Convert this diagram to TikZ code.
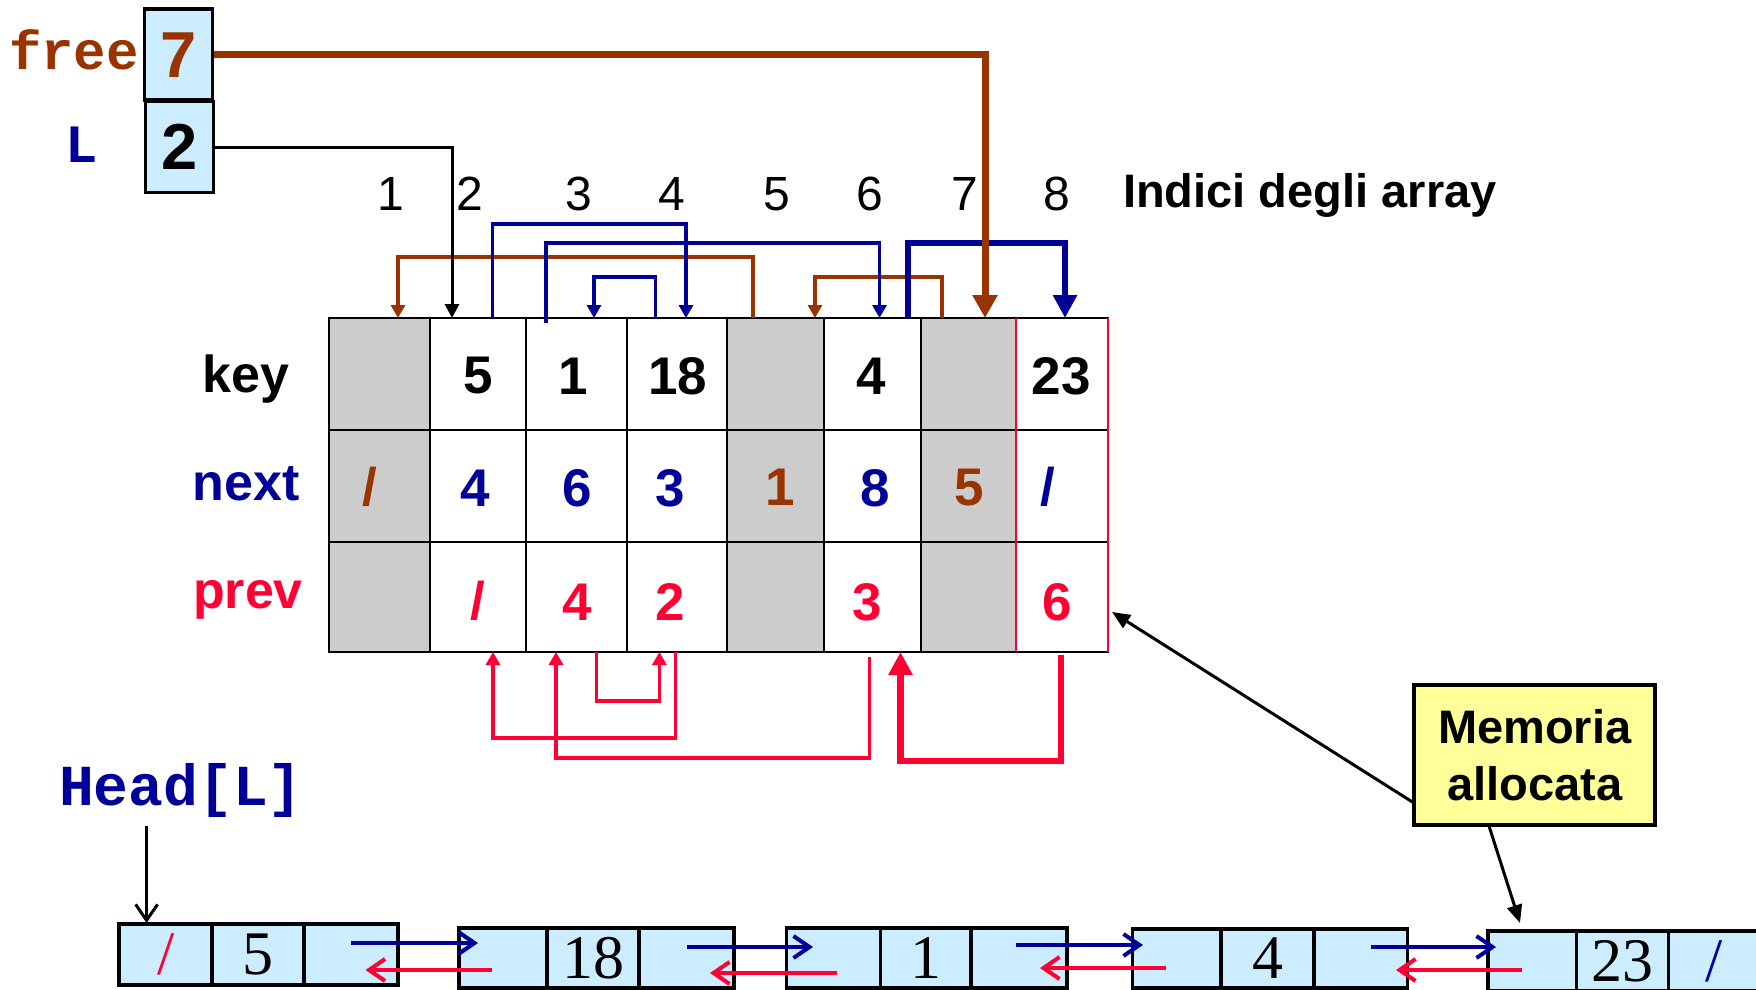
\documentclass[tikz,border=0pt]{standalone}
\usepackage{fontspec}
\setmainfont{Liberation Sans}
\newfontfamily\serifnum{Liberation Serif}
\newfontfamily\monofnt{Liberation Mono}
\usetikzlibrary{arrows.meta}
\definecolor{brn}{HTML}{993300}
\definecolor{blu}{HTML}{000099}
\definecolor{rd}{HTML}{FF0033}
\definecolor{lblue}{HTML}{CCECFF}
\definecolor{gry}{HTML}{CCCCCC}
\definecolor{yel}{HTML}{FFFF99}
\newcommand{\myfs}[1]{\fontsize{#1}{#1}\selectfont}
\tikzset{
  cell/.style={draw=black, line width=2pt, inner sep=0pt, outer sep=0pt},
  keyt/.style={font=\myfs{53}\bfseries, inner sep=0pt},
  idx/.style={font=\myfs{48}, inner sep=0pt, anchor=base},
  rowlbl/.style={font=\myfs{52}\bfseries, inner sep=0pt, anchor=base},
  mono/.style={font=\monofnt\bfseries\myfs{54}, inner sep=0pt, anchor=base},
  pbox/.style={draw=black, fill=lblue, line width=3.5pt, inner sep=0pt, minimum width=68pt, minimum height=91pt, font=\myfs{65}\bfseries},
  lnode/.style={draw=black, fill=lblue, line width=3.5pt, inner sep=0pt, font=\serifnum\myfs{62}},
  thinarr/.style={line width=3.3pt, -{Triangle[width=14pt,length=13pt]}},
  thickarr/.style={line width=6.5pt, -{Triangle[width=23pt,length=23pt]}},
  barb/.style={-{Straight Barb[length=16pt,width=22pt]}},
  memarr/.style={line width=3pt, -{Triangle[width=15pt,length=18pt]}},
}
\begin{document}
\begin{tikzpicture}[x=1pt,y=-1pt]
\useasboundingbox (0,0) rectangle (1756,990);
\clip (0,0) rectangle (1756,990);

% ---- table cells ----
\foreach \co/\xa/\xb/\fc in {1/329/430/gry, 2/430/526/white, 3/526/627/white, 4/627/727/white, 5/727/824/gry, 6/824/921/white, 7/921/1016/gry, 8/1016/1108/white}{
  \foreach \ro/\ya/\yb in {1/318/430, 2/430/542, 3/542/652}{
    \pgfmathsetmacro\cw{\xb-\xa}
    \pgfmathsetmacro\ch{\yb-\ya}
    \pgfmathsetmacro\cx{(\xa+\xb)/2}
    \pgfmathsetmacro\cy{(\ya+\yb)/2}
    \node[cell, fill=\fc, minimum width=\cw pt, minimum height=\ch pt] (c\ro\co) at (\cx,\cy) {};
  }
}
\draw[rd, line width=1.5pt] (c18.north west) -- (c38.south west);
\draw[rd, line width=1.5pt] (c18.north east) -- (c38.south east);

% key row
\node[keyt] (k2) at (478,376) {5};
\node[keyt] (k3) at (573,376) {1};
\node[keyt] (k4) at (678,376) {18};
\node[keyt] (k6) at (871,376) {4};
\node[keyt] (k8) at (1061,376) {23};
% next row
\node[keyt, text=brn] (n1) at (370,487) {/};
\node[keyt, text=blu] (n2) at (475,488) {4};
\node[keyt, text=blu] (n3) at (577,488) {6};
\node[keyt, text=blu] (n4) at (670,488) {3};
\node[keyt, text=brn] (n5) at (780,487) {1};
\node[keyt, text=blu] (n6) at (875,488) {8};
\node[keyt, text=brn] (n7) at (969,488) {5};
\node[keyt, text=blu] (n8) at (1048,487) {/};
% prev row
\node[keyt, text=rd] (p2) at (478,601) {/};
\node[keyt, text=rd] (p3) at (577,602) {4};
\node[keyt, text=rd] (p4) at (670,602) {2};
\node[keyt, text=rd] (p6) at (867,602) {3};
\node[keyt, text=rd] (p8) at (1057,602) {6};

% row labels
\node[rowlbl] (lkey) at (246,392) {key};
\node[rowlbl, text=blu] (lnext) at (246,500) {next};
\node[rowlbl, text=rd] (lprev) at (248,608) {prev};

% indices
\foreach \i/\xx in {1/391, 2/470, 3/579, 4/672, 5/777, 6/870, 7/965, 8/1057}{
  \node[idx] (i\i) at (\xx,210) {\i};
}
\node[font=\myfs{47}\bfseries, inner sep=0pt, anchor=base west] (indici) at (1123,207) {Indici degli array};

% free / L
\node[pbox, text=brn] (f7) at (178.5,54.7) {7};
\node[pbox] (l2) at (179.7,147.2) {2};
\node[mono, text=brn] (freelbl) at (74,70) {free};
\node[mono, text=blu] (llbl) at (81.7,162.7) {L};
\node[mono, text=blu, font=\monofnt\bfseries\myfs{58}] (headlbl) at (181,805) {Head[L]};

% ---- connector endpoints ----
\coordinate (b51s) at (753,318); \coordinate (b51t) at (398,318);
\coordinate (b75s) at (942,318); \coordinate (b75t) at (815,318);
\coordinate (n24s) at (492.5,318); \coordinate (n24t) at (686,318);
\coordinate (n36s) at (546,323); \coordinate (n36t) at (879.5,318);
\coordinate (n43s) at (655.6,318); \coordinate (n43t) at (594,318);
\coordinate (n68s) at (908,318); \coordinate (n68t) at (1065,318);
\coordinate (p42s) at (675.5,652); \coordinate (p42t) at (493,652);
\coordinate (p34s) at (596.5,652); \coordinate (p34t) at (659.4,652);
\coordinate (p63s) at (869.3,657); \coordinate (p63t) at (556,652);
\coordinate (p86s) at (1061,655); \coordinate (p86t) at (900.5,652);
\coordinate (freet) at (985,318);
\coordinate (lt) at (452,318);

% brown (free list next)
\draw[brn, thinarr] (b51s) -- ++(0,-61) -| (b51t);
\draw[brn, thinarr] (b75s) -- ++(0,-41) -| (b75t);
% blue (next)
\draw[blu, thinarr] (n24s) -- ++(0,-94) -| (n24t);
\draw[blu, thinarr] (n36s) -- ++(0,-80) -| (n36t);
\draw[blu, thinarr] (n43s) -- ++(0,-41) -| (n43t);
\draw[blu, thickarr] (n68s) -- ++(0,-75) -| (n68t);
% red (prev)
\draw[rd, thinarr] (p42s) -- ++(0,86) -| (p42t);
\draw[rd, thinarr] (p34s) -- ++(0,49) -| (p34t);
\draw[rd, thinarr] (p63s) -- ++(0,101) -| (p63t);
\draw[rd, thickarr] (p86s) -- ++(0,106) -| (p86t);
% L and free
\draw[black, line width=3pt, -{Triangle[width=14pt,length=14pt]}] (l2.east) -| (lt);
\draw[brn, line width=7pt, -{Triangle[width=24pt,length=23pt]}] (f7.east) -| (freet);

% ---- linked list ----
\node[lnode, minimum width=93pt, minimum height=61pt, text=rd] (n1a) at (165.7,954.5) {/};
\node[lnode, minimum width=92pt, minimum height=61pt] (n1b) at (258,954.5) {5};
\node[lnode, minimum width=94pt, minimum height=61pt] (n1c) at (351,954.5) {};
\node[lnode, minimum width=88.5pt, minimum height=60pt] (n2a) at (503,958) {};
\node[lnode, minimum width=92pt, minimum height=60pt] (n2b) at (593,958) {18};
\node[lnode, minimum width=94.5pt, minimum height=60pt] (n2c) at (686.5,958) {};
\node[lnode, minimum width=93.7pt, minimum height=60pt] (n3a) at (833.5,958) {};
\node[lnode, minimum width=90.6pt, minimum height=60pt] (n3b) at (925.7,958) {1};
\node[lnode, minimum width=95.8pt, minimum height=60pt] (n3c) at (1019,958) {};
\node[lnode, minimum width=88.7pt, minimum height=59pt] (n4a) at (1177,958.5) {};
\node[lnode, minimum width=92.7pt, minimum height=59pt] (n4b) at (1267.5,958.5) {4};
\node[lnode, minimum width=93.3pt, minimum height=59pt] (n4c) at (1360.7,958.5) {};
\node[lnode, minimum width=88.7pt, minimum height=60pt] (n5a) at (1532.4,961) {};
\node[lnode, minimum width=91.8pt, minimum height=60pt] (n5b) at (1622.6,961) {23};
\node[lnode, minimum width=92pt, minimum height=60pt, text=blu] (n5c) at (1714.5,961) {/};

\coordinate (b12s) at (351,943); \coordinate (b12t) at (478,943);
\coordinate (r21s) at (492,970); \coordinate (r21t) at (365.5,970);
\coordinate (b23s) at (687,947); \coordinate (b23t) at (813,947);
\coordinate (r32s) at (837,973); \coordinate (r32t) at (710,973);
\coordinate (b34s) at (1015.5,945); \coordinate (b34t) at (1143,945);
\coordinate (r43s) at (1165.5,968); \coordinate (r43t) at (1040,968);
\coordinate (b45s) at (1371,947); \coordinate (b45t) at (1496,947);
\coordinate (r54s) at (1521.5,970); \coordinate (r54t) at (1396,970);
\foreach \s/\t in {b12s/b12t, b23s/b23t, b34s/b34t, b45s/b45t}{
  \draw[blu, line width=4pt, barb] (\s) -- (\t);
}
\foreach \s/\t in {r21s/r21t, r32s/r32t, r43s/r43t, r54s/r54t}{
  \draw[rd, line width=4pt, barb] (\s) -- (\t);
}
\coordinate (hs) at (146.6,826);
\coordinate (ht) at (146.6,923);
\draw[black, line width=3pt, barb] (hs) -- (ht);

% ---- Memoria allocata ----
\node[draw=black, fill=yel, line width=3.5pt, minimum width=241pt, minimum height=140pt, inner sep=0pt, align=center, font=\fontsize{47}{57}\selectfont\bfseries] (mem) at (1534.7,755) {Memoria\\allocata};
\coordinate (m1s) at (1414,803); \coordinate (m1t) at (1112,612);
\coordinate (m2s) at (1489,826); \coordinate (m2t) at (1520,923);
\draw[memarr] (m1s) -- (m1t);
\draw[memarr] (m2s) -- (m2t);
\end{tikzpicture}
\end{document}
